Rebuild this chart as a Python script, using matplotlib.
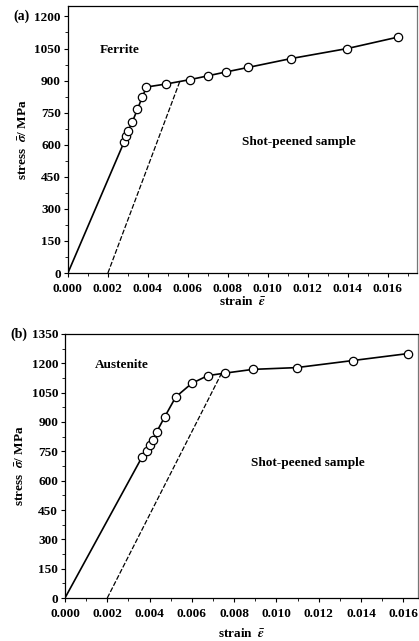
import matplotlib
matplotlib.use("Agg")
import matplotlib.pyplot as plt
from matplotlib.ticker import MultipleLocator

plt.rcParams['font.family'] = ['Liberation Serif', 'DejaVu Serif']
plt.rcParams['font.weight'] = 'bold'
plt.rcParams['mathtext.fontset'] = 'stix'

# ---------------- data ----------------
# (a) ferrite
fer_strain = [0.00282, 0.0029, 0.00302, 0.00322, 0.00348, 0.00372, 0.00393,
              0.0049, 0.00613, 0.00703, 0.00793, 0.00903, 0.01115, 0.01397, 0.01648]
fer_stress = [615, 639, 666, 706, 767, 823, 870,
              884, 905, 923, 941, 962, 1003, 1050, 1103]
fer_offset_strain = [0.002, 0.0056]
fer_offset_stress = [0, 897]

# (b) austenite
aus_strain = [0.00365, 0.00386, 0.00401, 0.00418, 0.00433, 0.00471, 0.00524,
              0.00599, 0.00675, 0.00758, 0.00889, 0.01095, 0.0136, 0.01624]
aus_stress = [722, 753, 783, 809, 848, 925, 1028,
              1097, 1137, 1150, 1169, 1178, 1214, 1250]
aus_offset_strain = [0.002, 0.0074]
aus_offset_stress = [0, 1148]

xticks = [0.000, 0.002, 0.004, 0.006, 0.008, 0.010, 0.012, 0.014, 0.016]


def draw_panel(ax, strain, stress, off_x, off_y, ymax, yticks, xmax, phase, phase_xy,
               sample_xy, tag, xlabelpad):
    # elastic line from origin to first measured point
    ax.plot([0, strain[0]], [0, stress[0]], color='black', lw=1.2)
    ax.plot(strain, stress, color='black', lw=1.2, marker='o', ms=6,
            mfc='white', mec='black', mew=0.9)
    ax.plot(off_x, off_y, color='black', lw=0.9, linestyle=(0, (4, 1.5)))

    ax.set_xlim(0, xmax)
    ax.set_ylim(0, ymax)
    ax.set_xticks(xticks)
    ax.set_xticklabels([f"{t:.3f}" for t in xticks])
    ax.set_yticks(yticks)
    ax.xaxis.set_minor_locator(MultipleLocator(0.001))
    ax.yaxis.set_minor_locator(MultipleLocator(75))
    ax.tick_params(direction='out', length=3, width=0.8, labelsize=9.5, pad=2)
    ax.tick_params(axis='x', pad=4)
    ax.tick_params(which='minor', direction='out', length=2, width=0.6)
    for lab in ax.get_xticklabels() + ax.get_yticklabels():
        lab.set_fontweight('bold')
    for s in ax.spines.values():
        s.set_linewidth(0.9)
    ax.spines['right'].set_color('#777777')
    ax.spines['right'].set_linestyle((0, (1, 1)))

    ax.set_xlabel(r"strain  $\bar{\varepsilon}$", fontsize=9.5, fontweight='bold',
                  labelpad=xlabelpad)
    ax.set_ylabel(r"stress  $\bar{\sigma}$/ MPa", fontsize=9.5, fontweight='bold', labelpad=3)
    ax.text(phase_xy[0], phase_xy[1], phase, fontsize=9.5, fontweight='bold', va='center')
    ax.text(sample_xy[0], sample_xy[1], "Shot-peened sample", fontsize=9.5,
            fontweight='bold', va='center')
    ax.text(-0.155, 1.0 - (ax.get_ylim()[1] - yticks[-1]) / ymax, tag,
            transform=ax.transAxes, fontsize=10, va='center', ha='left')


fig = plt.figure(figsize=(4.19, 6.41), dpi=100)
ax1 = fig.add_axes([0.162, 0.574, 0.833, 0.417])
ax2 = fig.add_axes([0.155, 0.067, 0.843, 0.412])

draw_panel(ax1, fer_strain, fer_stress, fer_offset_strain, fer_offset_stress,
           1250, list(range(0, 1201, 150)), 0.01745, "Ferrite", (0.0016, 1045),
           (0.0087, 614), "(a)", 0)
draw_panel(ax2, aus_strain, aus_stress, aus_offset_strain, aus_offset_stress,
           1350, list(range(0, 1351, 150)), 0.0167, "Austenite", (0.00143, 1190),
           (0.0088, 690), "(b)", 5)

fig.savefig("out.png", dpi=100)
